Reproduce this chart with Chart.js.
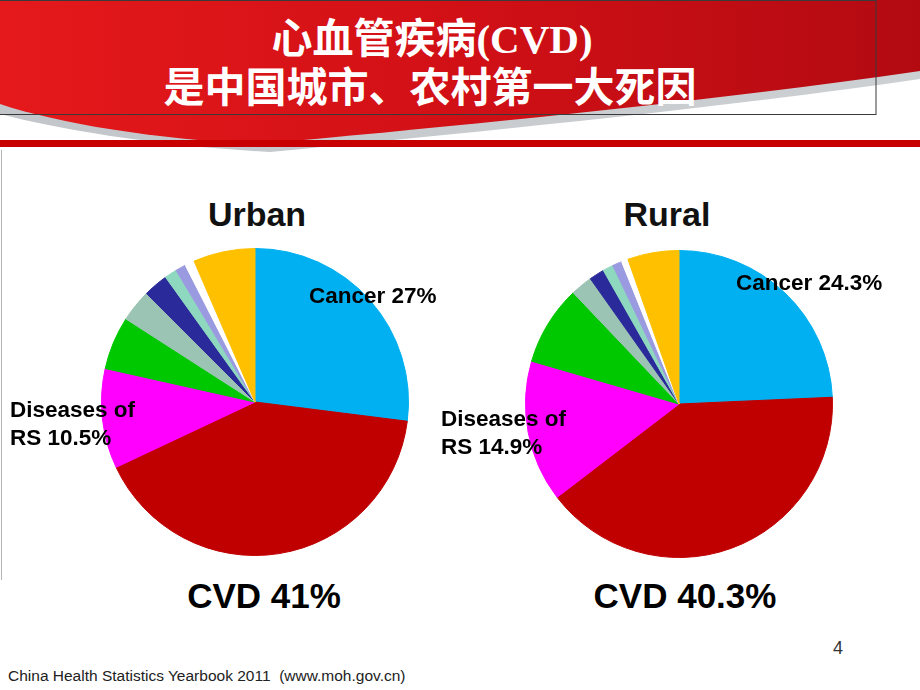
<!DOCTYPE html>
<html lang="zh">
<head>
  <meta charset="UTF-8" />
  <title>心血管疾病(CVD) 是中国城市、农村第一大死因</title>
  <script src="https://cdn.jsdelivr.net/npm/chart.js"></script>
  <style>
    body { margin: 0; background: #fff; font-family: "Liberation Sans", Arial, sans-serif; }
    #slide { position: relative; width: 920px; height: 690px; overflow: hidden; background: #fff; }
    #banner { position: absolute; left: 0; top: 0; }
    .txt { position: absolute; white-space: nowrap; color: #000; font-weight: bold; }
    .title { color: #fff; font-family: "Noto Sans CJK SC", sans-serif; font-size: 41px; line-height: 44px; width: 920px; left: 0; text-align: center; }
    .title .lat { font-family: "Liberation Serif", serif; }
    .pie { position: absolute; width: 308px; height: 308px; }
    .center { text-align: center; }
    .lbl { font-size: 22.5px; line-height: 28px; }
    #edge { position: absolute; left: 1px; top: 150px; width: 1px; height: 430px; background: #b4b4b4; }
  </style>
</head>
<body>
<div id="slide">
  <svg id="banner" width="920" height="160">
    <defs>
      <linearGradient id="red" x1="0" x2="1" y1="0" y2="0">
        <stop offset="0" stop-color="#E5191B"/>
        <stop offset="0.5" stop-color="#D11016"/>
        <stop offset="1" stop-color="#B30A12"/>
      </linearGradient>
      <linearGradient id="shade" x1="0" x2="1" y1="0" y2="0">
        <stop offset="0" stop-color="#C2C6CA"/>
        <stop offset="1" stop-color="#CDD0D3"/>
      </linearGradient>
    </defs>
    <path d="M0,0 H920 V79 C720,108 480,132 270,152 C160,146 60,130 0,114 Z" fill="url(#shade)"/>
    <path d="M0,0 H920 V71 C720,100 480,124 262,144 C160,140 60,124 0,104 Z" fill="url(#red)"/>
    <rect x="0" y="140" width="920" height="7" fill="#C80000"/>
    <rect x="-1" y="0.5" width="877" height="114" fill="none" stroke="#3a3a3a" stroke-width="1"/>
  </svg>
  <div id="edge"></div>

  <div class="txt title" style="top:13px; left:-28px;">心血管疾病<span class="lat">(CVD)</span></div>
  <div class="txt title" style="top:62px; left:-30px;">是中国城市、农村第一大死因</div>

  <div class="pie" style="left:101px; top:248px;"><canvas id="urbanPie" width="308" height="308"></canvas></div>
  <div class="pie" style="left:525px; top:250px;"><canvas id="ruralPie" width="308" height="308"></canvas></div>

  <div class="txt center" style="left:157px; width:200px; top:195px; font-size:34px; line-height:38px; color:#111;">Urban</div>
  <div class="txt center" style="left:567px; width:200px; top:195px; font-size:34px; line-height:38px; color:#111;">Rural</div>

  <div class="txt lbl" style="left:309px; top:282px;">Cancer 27%</div>
  <div class="txt lbl" style="left:736px; top:269px;">Cancer 24.3%</div>
  <div class="txt lbl" style="left:10px; top:396px;">Diseases of<br>RS 10.5%</div>
  <div class="txt lbl" style="left:441px; top:405px;">Diseases of<br>RS 14.9%</div>

  <div class="txt center" style="left:114px; width:300px; top:576px; font-size:35px; line-height:40px;">CVD 41%</div>
  <div class="txt center" style="left:535px; width:300px; top:576px; font-size:35px; line-height:40px;">CVD 40.3%</div>

  <div class="txt" style="left:833px; top:637px; font-size:18px; line-height:22px; font-weight:normal; color:#333;">4</div>
  <div class="txt" style="left:8px; top:667px; font-size:15.5px; line-height:18px; font-weight:normal; color:#222;">China Health Statistics Yearbook 2011&nbsp; (www.moh.gov.cn)</div>
</div>

<script>
// causes of death, clockwise from 12 o'clock
const causes = ['Cancer', 'CVD', 'Diseases of RS', 'Other 1', 'Other 2', 'Other 3', 'Other 4', 'Other 5', 'Other 6', 'Other 7'];
const urbanValues = [27, 41, 10.5, 5.6, 3.4, 2.6, 1.3, 1.1, 1.0, 6.5];
const ruralValues = [24.3, 40.3, 14.9, 8.4, 2.3, 1.6, 1.1, 1.0, 0.7, 5.4];
const sliceColors = ['#00B0F0', '#C00000', '#FF00FF', '#00C800', '#9BC4B4', '#2A2A9A', '#8ED8C0', '#9A9AE0', '#FFFFFF', '#FFC000'];

function makePie(id, values) {
  new Chart(document.getElementById(id), {
    type: 'pie',
    data: {
      labels: causes,
      datasets: [{
        data: values,
        backgroundColor: sliceColors,
        borderColor: sliceColors,
        borderWidth: 1
      }]
    },
    options: {
      responsive: false,
      animation: false,
      events: [],
      layout: { padding: 0 },
      plugins: { legend: { display: false }, tooltip: { enabled: false } }
    }
  });
}

makePie('urbanPie', urbanValues);
makePie('ruralPie', ruralValues);
</script>
</body>
</html>
